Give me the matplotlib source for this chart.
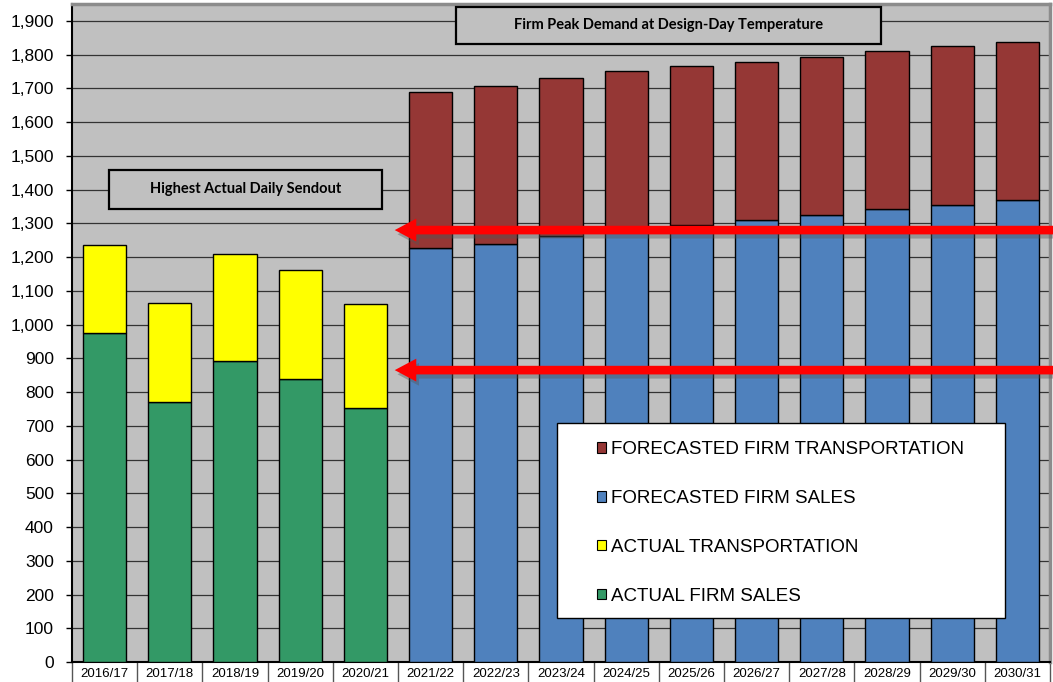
import matplotlib
matplotlib.use("Agg")
import matplotlib.pyplot as plt
import matplotlib.ticker as mticker
import matplotlib.patheffects as pe
from matplotlib.patches import Rectangle, Patch

plt.rcParams["font.family"] = ["Liberation Sans", "DejaVu Sans"]

# ── data ──────────────────────────────────────────────────────────────
SEASONS = ["2016/17", "2017/18", "2018/19", "2019/20", "2020/21",
           "2021/22", "2022/23", "2023/24", "2024/25", "2025/26",
           "2026/27", "2027/28", "2028/29", "2029/30", "2030/31"]
ACTUAL_FIRM_SALES = [975, 771, 893, 839, 753]
ACTUAL_TRANSPORT = [262, 293, 317, 323, 309]
FCST_FIRM_SALES = [1227, 1239, 1263, 1280, 1296, 1311, 1326, 1341, 1355, 1368]
FCST_FIRM_TRANSPORT = [463, 469, 469, 470, 469, 468, 468, 469, 470, 469]
ARROW_LEVELS = [1280, 865]

C_GREEN = "#339966"
C_YELLOW = "#FFFF00"
C_BLUE = "#4F81BD"
C_RED = "#953735"
C_BG = "#C0C0C0"

W, H = 1053, 682
fig = plt.figure(figsize=(W / 100, H / 100), dpi=100)
ax = fig.add_axes([72 / W, 1 - 662 / H, (1050 - 72) / W, (662 - 4) / H])
ax.set_facecolor(C_BG)

n_act = len(ACTUAL_FIRM_SALES)
x_act = list(range(n_act))
x_fc = list(range(n_act, len(SEASONS)))
bw = 0.66
kw = dict(width=bw, edgecolor="black", linewidth=1.0, zorder=3)

ax.bar(x_act, ACTUAL_FIRM_SALES, color=C_GREEN, **kw)
ax.bar(x_act, ACTUAL_TRANSPORT, bottom=ACTUAL_FIRM_SALES, color=C_YELLOW, **kw)
ax.bar(x_fc, FCST_FIRM_SALES, color=C_BLUE, **kw)
ax.bar(x_fc, FCST_FIRM_TRANSPORT, bottom=FCST_FIRM_SALES, color=C_RED, **kw)

ax.set_xlim(-0.5, len(SEASONS) - 0.5)
ax.set_ylim(0, 1950)
ax.yaxis.set_major_locator(mticker.MultipleLocator(100))
ax.yaxis.set_major_formatter(mticker.StrMethodFormatter("{x:,.0f}"))
ax.grid(axis="y", color="#333333", linewidth=0.9, zorder=1)
ax.set_axisbelow(True)

ax.tick_params(axis="y", direction="out", length=4, width=1, pad=9,
               labelsize=12.5, color="black")
ax.set_xticks(range(len(SEASONS)))
ax.set_xticklabels(SEASONS, fontsize=9.5)
ax.tick_params(axis="x", which="major", length=0, pad=4)
ax.xaxis.set_minor_locator(mticker.FixedLocator([i - 0.5 for i in range(len(SEASONS) + 1)]))
ax.tick_params(axis="x", which="minor", direction="out", length=15, width=1, color="#555555")

for s in ["left", "bottom"]:
    ax.spines[s].set_color("black")
    ax.spines[s].set_linewidth(1.5)
for s in ["top", "right"]:
    ax.spines[s].set_color("#8c8c8c")
    ax.spines[s].set_linewidth(2.5)

# ── boxed captions ────────────────────────────────────────────────────
def caption(x0, y0, x1, y1, text):
    fig.add_artist(Rectangle((x0 / W, 1 - y1 / H), (x1 - x0) / W, (y1 - y0) / H,
                             transform=fig.transFigure, facecolor=C_BG,
                             edgecolor="black", linewidth=1.6, zorder=4))
    fig.text((x0 + x1) / 2 / W, 1 - (y0 + y1) / 2 / H, text, ha="center", va="center",
             fontsize=10.5, fontweight="bold", family=["Lato", "DejaVu Sans"], zorder=5)

caption(456, 7, 881, 44, "Firm Peak Demand at Design-Day Temperature")
caption(109, 170, 382, 209, "Highest Actual Daily Sendout")

# ── legend ────────────────────────────────────────────────────────────
fig.add_artist(Rectangle((557 / W, 1 - 618 / H), (1005 - 557) / W, (618 - 423) / H,
                         transform=fig.transFigure, facecolor="white",
                         edgecolor="black", linewidth=1.0, zorder=4))
handles = [Patch(facecolor=C_RED, edgecolor="black", lw=0.8),
           Patch(facecolor=C_BLUE, edgecolor="black", lw=0.8),
           Patch(facecolor=C_YELLOW, edgecolor="black", lw=0.8),
           Patch(facecolor=C_GREEN, edgecolor="black", lw=0.8)]
labels = ["FORECASTED FIRM TRANSPORTATION", "FORECASTED FIRM SALES",
          "ACTUAL TRANSPORTATION", "ACTUAL FIRM SALES"]
leg = fig.legend(handles, labels, loc="upper left",
                 bbox_to_anchor=(597 / W, 1 - 441 / H), frameon=False,
                 fontsize=13.5, handlelength=0.5, handleheight=0.5,
                 handletextpad=0.25, labelspacing=1.7, borderpad=0, borderaxespad=0)
leg.set_zorder(6)

# ── red arrows ────────────────────────────────────────────────────────
for lvl in ARROW_LEVELS:
    ann = ax.annotate("", xy=(4.45, lvl), xycoords="data",
                      xytext=(1.0, lvl), textcoords=("figure fraction", "data"),
                      annotation_clip=False,
                      arrowprops=dict(arrowstyle="simple,head_length=15.5,head_width=16.5,tail_width=6.2",
                                      mutation_scale=1, color="#FF0000", lw=0,
                                      shrinkA=0, shrinkB=0,
                                      path_effects=[pe.withSimplePatchShadow(offset=(2, -3), shadow_rgbFace="#555555", alpha=0.4)]))
    ann.set_zorder(7)
    ann.arrow_patch.set_clip_on(False)

fig.savefig("out.png", dpi=100)
